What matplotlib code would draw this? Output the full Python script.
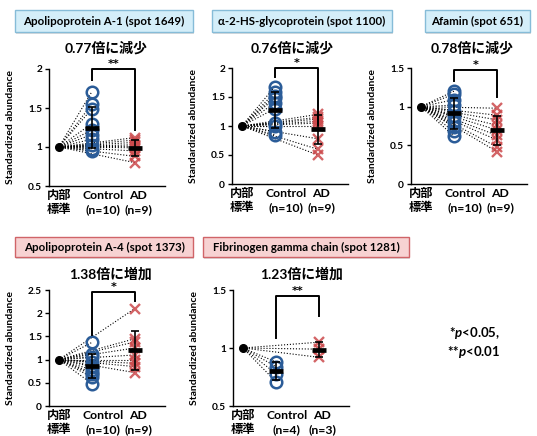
import numpy as np
import matplotlib
matplotlib.use("Agg")
import matplotlib.pyplot as plt
from matplotlib.patches import FancyBboxPatch

plt.rcParams['font.family'] = ['Lato', 'Noto Sans CJK JP', 'DejaVu Sans']
plt.rcParams['font.weight'] = 'bold'
plt.rcParams['mathtext.fontset'] = 'custom'
plt.rcParams['mathtext.it'] = 'Lato:italic:bold'
plt.rcParams['mathtext.rm'] = 'Lato:bold'

# ---- data ----
categories = ["内部\n標準", "Control\n(n={})", "AD\n(n={})"]

apoa1_control = [1.71, 1.55, 1.49, 1.30, 1.22, 1.16, 1.10, 1.02, 0.98, 0.95]
apoa1_ad = [1.12, 1.09, 1.06, 1.03, 1.01, 0.99, 0.95, 0.88, 0.80]

ahsg_control = [1.68, 1.58, 1.52, 1.48, 1.40, 1.30, 1.05, 1.00, 0.90, 0.85]
ahsg_ad = [1.20, 1.15, 1.12, 1.08, 1.05, 1.00, 0.78, 0.60, 0.50]

afamin_control = [1.20, 1.16, 1.09, 1.02, 0.95, 0.88, 0.80, 0.74, 0.68, 0.62]
afamin_ad = [0.98, 0.89, 0.83, 0.76, 0.70, 0.63, 0.57, 0.48, 0.42]

apoa4_control = [1.37, 1.13, 1.06, 0.95, 0.85, 0.78, 0.72, 0.68, 0.62, 0.48]
apoa4_ad = [2.10, 1.45, 1.38, 1.25, 1.10, 1.00, 0.92, 0.85, 0.72]

fgg_control = [0.88, 0.84, 0.78, 0.71]
fgg_ad = [1.05, 0.99, 0.92]

titles = ["Apolipoprotein A-1 (spot 1649)", "α-2-HS-glycoprotein (spot 1100)",
          "Afamin (spot 651)", "Apolipoprotein A-4 (spot 1373)",
          "Fibrinogen gamma chain (spot 1281)"]
subtitles = ["0.77倍に減少", "0.76倍に減少", "0.78倍に減少", "1.38倍に増加", "1.23倍に増加"]
stars = ["**", "*", "*", "*", "**"]

W, H = 537, 436
fig = plt.figure(figsize=(W / 100, H / 100), dpi=100)

blue_box = ('#d4eef9', '#86bcd8')
red_box = ('#f7d2d2', '#d06468')

panels = [
    dict(ctrl=apoa1_control, ad=apoa1_ad, left=49, top=69, bot=186, ylim=(0.5, 2),
         yt=[0.5, 1, 1.5, 2], box=(15, 10, 193, 32), boxc=blue_box, subx=106, suby=48,
         br=(2.0, 1.86, 1.22)),
    dict(ctrl=ahsg_control, ad=ahsg_ad, left=232, top=68, bot=184, ylim=(0, 2),
         yt=[0, 0.5, 1, 1.5, 2], box=(212, 10, 392, 32), boxc=blue_box, subx=292, suby=48,
         br=(2.0, 1.84, 1.02)),
    dict(ctrl=afamin_control, ad=afamin_ad, left=411, top=68, bot=184, ylim=(0, 1.5),
         yt=[0, 0.5, 1, 1.5], box=(425, 10, 530, 32), boxc=blue_box, subx=472, suby=48,
         br=(1.47, 1.33, 1.13)),
    dict(ctrl=apoa4_control, ad=apoa4_ad, left=49, top=290, bot=406, ylim=(0, 2.5),
         yt=[0, 0.5, 1, 1.5, 2, 2.5], box=(15, 237, 193, 257), boxc=red_box, subx=110, suby=274,
         br=(2.46, 1.53, 2.26)),
    dict(ctrl=fgg_control, ad=fgg_ad, left=233, top=290, bot=406, ylim=(0.5, 1.5),
         yt=[0.5, 1, 1.5], box=(203, 237, 409, 257), boxc=red_box, subx=302, suby=274,
         br=(1.45, 1.09, 1.28)),
]

xpos = [0, 1, 2.3]
unit = 33.0
for i, p in enumerate(panels):
    x0 = p['left']
    width = 3.5 * unit
    ax = fig.add_axes([x0 / W, 1 - p['bot'] / H, width / W, (p['bot'] - p['top']) / H])
    ax.set_xlim(-0.3, 3.2)
    ax.set_ylim(*p['ylim'])
    ax.patch.set_alpha(0)
    for s in ['top', 'right']:
        ax.spines[s].set_visible(False)
    ax.spines['left'].set_linewidth(1.0)
    ax.spines['bottom'].set_linewidth(1.0)
    ax.set_xticks([])
    ax.set_yticks(p['yt'])
    ax.set_yticklabels(['{:g}'.format(v) for v in p['yt']], fontsize=7.3, fontweight='bold')
    ax.tick_params(axis='y', length=3, width=1, pad=2)
    ax.set_ylabel("Standardized abundance", fontsize=7.5, fontweight='bold')
    ax.yaxis.set_label_coords(-34 / width, 0.5)

    ctrl = np.array(p['ctrl'])
    ad = np.array(p['ad'])
    # dotted lines from the internal standard
    for v in ctrl:
        ax.plot([xpos[0], xpos[1]], [1, v], ls=':', color='black', lw=0.8, zorder=1)
    for v in ad:
        ax.plot([xpos[0], xpos[2]], [1, v], ls=':', color='black', lw=0.8, zorder=1)
    ax.plot([xpos[0]], [1], 'o', color='black', ms=5.5, zorder=3)
    ax.plot(np.full(len(ctrl), xpos[1]), ctrl, 'o', mfc='none', mec='#2b5c98',
            mew=1.8, ms=8.3, zorder=2)
    ax.plot(np.full(len(ad), xpos[2]), ad, 'x', color='#cc4a4c', mew=1.7, ms=7.8,
            alpha=0.85, zorder=2)
    for xx, vals in [(xpos[1], ctrl), (xpos[2], ad)]:
        m = vals.mean()
        sd = vals.std(ddof=1)
        ax.errorbar(xx, m, yerr=sd, color='black', lw=1.2, capsize=3, capthick=1.2, zorder=4)
        ax.plot([xx - 0.22, xx + 0.22], [m, m], color='black', lw=3.4,
                solid_capstyle='butt', zorder=5)

    # significance bracket
    top, lb, rb = p['br']
    ax.plot([xpos[1], xpos[1], xpos[2], xpos[2]], [lb, top, top, rb], color='black',
            lw=1.4, clip_on=False, zorder=6)
    ax.text((xpos[1] + xpos[2]) / 2, top, stars[i], ha='center', va='bottom',
            fontsize=8, fontweight='bold', family=['DejaVu Sans'])

    # category labels
    n_ctrl = len(ctrl)
    n_ad = len(ad)
    labs = [categories[0], categories[1].format(n_ctrl), categories[2].format(n_ad)]
    offs = [0, 0.33, 0.1]
    for xx, lab, o in zip(xpos, labs, offs):
        ax.text(xx + o, -0.035, lab, transform=ax.get_xaxis_transform(), ha='center',
                va='top', fontsize=8.8, fontweight='bold', linespacing=1.3)

    # title box
    bx0, by0, bx1, by1 = p['box']
    fc, ec = p['boxc']
    fig.patches.append(FancyBboxPatch((bx0 / W + 0.002, 1 - by1 / H - 0.004),
                                      (bx1 - bx0) / W, (by1 - by0) / H,
                                      boxstyle='square,pad=0', transform=fig.transFigure,
                                      fc='#bbbbbb', ec='none', alpha=0.5, zorder=0))
    fig.patches.append(FancyBboxPatch((bx0 / W, 1 - by1 / H), (bx1 - bx0) / W,
                                      (by1 - by0) / H, boxstyle='square,pad=0',
                                      transform=fig.transFigure, fc=fc, ec=ec, lw=1.0,
                                      zorder=1))
    fig.text((bx0 + bx1) / 2 / W, 1 - (by0 + by1) / 2 / H, titles[i], ha='center',
             va='center', fontsize=8.3, fontweight='bold')
    fig.text(p['subx'] / W, 1 - p['suby'] / H, subtitles[i], ha='center', va='center',
             fontsize=10, fontweight='bold')

fig.text(500 / W, 1 - 333 / H, r"*$\it{p}$<0.05,", ha='right', va='center',
         fontsize=9.5, fontweight='bold')
fig.text(500 / W, 1 - 352 / H, r"**$\it{p}$<0.01", ha='right', va='center',
         fontsize=9.5, fontweight='bold')

fig.savefig("out.png", dpi=100)
